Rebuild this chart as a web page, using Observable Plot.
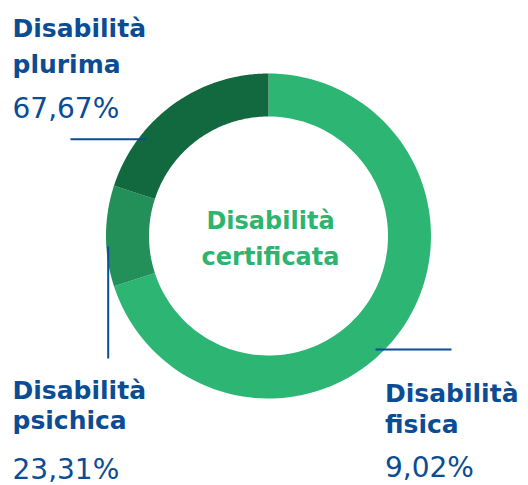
<!DOCTYPE html>
<html>
<head>
<meta charset="utf-8">
<script src="https://cdn.jsdelivr.net/npm/d3@7"></script>
<script src="https://cdn.jsdelivr.net/npm/@observablehq/plot@0.6"></script>
<style>
  html, body { margin: 0; padding: 0; background: #ffffff; }
  #chart svg { display: block; }
</style>
</head>
<body>
<div id="chart"></div>
<script>
// ---- data ----
// ring segments, clockwise from 12 o'clock
const segments = ["fisica", "psichica", "plurima"];
const arcShares = [70, 10, 20];               // share of the ring each arc covers
const titleLine1 = ["Disabilità", "Disabilità", "Disabilità"];
const titleLine2 = ["fisica", "psichica", "plurima"];
const percentLabels = ["9,02%", "23,31%", "67,67%"];
const centerLines = ["Disabilità", "certificata"];

// ---- layout & style (not data) ----
const W = 528, H = 485;
const ring = {cx: 268, cy: 235.5, outer: 162.5, inner: 119.5};
const segColors = ["#2db673", "#23905a", "#13693f"];
const blue = "#0b4c94";
const green = "#2db46f";
const font = "'DejaVu Sans', Verdana, sans-serif";
const labelLayout = {
  fisica:   {x: 384.5, base: [401.5, 432.5, 476.5], leader: [[375, 349], [451, 349]]},
  psichica: {x: 12,    base: [398, 428.5, 478],     leader: [[107.7, 246], [107.7, 358]]},
  plurima:  {x: 12,    base: [36, 72.5, 117],       leader: [[70, 138.7], [146, 138.7]]}
};
const centerBase = [228, 264];
const centerX = 270;

// ---- build ring polygons from the shares ----
const total = d3.sum(arcShares);
let acc = 0;
const ringPts = [];
segments.forEach((s, i) => {
  const a0 = acc / total * 2 * Math.PI;
  acc += arcShares[i];
  const a1 = acc / total * 2 * Math.PI;
  const n = 120;
  for (let k = 0; k <= n; k++) {
    const a = a0 + (a1 - a0) * k / n;
    ringPts.push({seg: s, x: ring.cx + ring.outer * Math.sin(a), y: ring.cy - ring.outer * Math.cos(a)});
  }
  for (let k = n; k >= 0; k--) {
    const a = a0 + (a1 - a0) * k / n;
    ringPts.push({seg: s, x: ring.cx + ring.inner * Math.sin(a), y: ring.cy - ring.inner * Math.cos(a)});
  }
});

const titleRows = [];
const pctRows = [];
const leaderRows = [];
segments.forEach((s, i) => {
  const L = labelLayout[s];
  titleRows.push({x: L.x, y: L.base[0], t: titleLine1[i]});
  titleRows.push({x: L.x, y: L.base[1], t: titleLine2[i]});
  pctRows.push({x: L.x, y: L.base[2], t: percentLabels[i]});
  leaderRows.push({x1: L.leader[0][0], y1: L.leader[0][1], x2: L.leader[1][0], y2: L.leader[1][1]});
});
const centerRows = centerLines.map((t, i) => ({x: centerX, y: centerBase[i], t}));

const chart = Plot.plot({
  width: W,
  height: H,
  margin: 0,
  x: {domain: [0, W], range: [0, W], axis: null},
  y: {domain: [0, H], range: [0, H], axis: null},
  color: {domain: segments, range: segColors},
  style: {background: "#ffffff"},
  marks: [
    Plot.line(ringPts, {x: "x", y: "y", z: "seg", fill: "seg", stroke: null, curve: "linear-closed"}),
    Plot.link(leaderRows, {x1: "x1", y1: "y1", x2: "x2", y2: "y2", stroke: blue, strokeWidth: 2}),
    Plot.text(titleRows, {x: "x", y: "y", text: "t", textAnchor: "start", lineAnchor: "bottom",
      fill: blue, fontSize: 25, fontWeight: 700, fontFamily: font}),
    Plot.text(pctRows, {x: "x", y: "y", text: "t", textAnchor: "start", lineAnchor: "bottom",
      fill: blue, fontSize: 28, fontWeight: 400, fontFamily: font}),
    Plot.text(centerRows, {x: "x", y: "y", text: "t", textAnchor: "middle", lineAnchor: "bottom",
      fill: green, fontSize: 24, fontWeight: 700, fontFamily: font})
  ]
});
document.getElementById("chart").appendChild(chart);
</script>
</body>
</html>
